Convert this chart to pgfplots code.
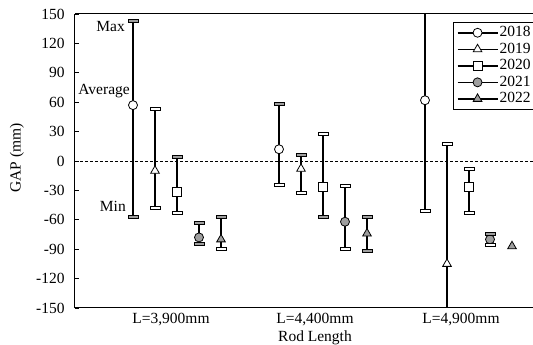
\documentclass[border=0pt]{standalone}
\usepackage{fontspec}
\setmainfont{Liberation Serif}
\usepackage{pgfplots}
\usepackage{pgfplotstable}
\pgfplotsset{compat=1.18}
\definecolor{mg}{RGB}{158,158,158}

% x: position (px from left axis), avg, max, min
\pgfplotstableread{
x avg max min
58 57 143 -57
204 12 58 -24
350 62 220 -51
}\tA
\pgfplotstableread{
x avg max min
80 -10 53 -48
226 -8 6 -32
372 -105 17 -220
}\tB
\pgfplotstableread{
x avg max min
102 -32 4 -53
248 -26 28 -57
394 -26 -8 -53
}\tC
\pgfplotstableread{
x avg max min
124 -78 -63 -85
270 -62 -25 -90
415 -80 -74 -86
}\tD
\pgfplotstableread{
x avg max min
146 -80 -57 -90
292 -74 -57 -92
437 -87 -87 -87
}\tE
\pgfplotstableread{
x y
58 143
58 -57
102 4
124 -63
124 -85
146 -57
204 58
226 6
248 -57
292 -57
292 -92
415 -74
}\capG
\pgfplotstableread{
x y
80 53
80 -48
102 -53
146 -90
204 -24
226 -32
248 28
270 -25
270 -90
350 -51
372 17
394 -8
394 -53
415 -86
}\capW

\begin{document}
\fontsize{15.5}{18}\selectfont
\begin{tikzpicture}
\begin{axis}[
  anchor=south west, at={(0,0)},
  scale only axis, width=458pt, height=294pt,
  xmin=0, xmax=458, ymin=-150, ymax=150,
  axis x line*=box, axis y line*=left,
  axis line style={line width=1pt, black},
  ytick={-150,-120,...,150},
  yticklabels={\textrm{-150},\textrm{-120},\textrm{-90},\textrm{-60},\textrm{-30},\textrm{0},\textrm{30},\textrm{60},\textrm{90},\textrm{120},\textrm{150}},
  yticklabel style={xshift=-5pt},
  xtick={96,240,386},
  xticklabels={{L=3,900mm},{L=4,400mm},{L=4,900mm}},
  xtick style={draw=none},
  ytick style={line width=0.8pt, black},
  tick align=inside, major tick length=4pt,
  ylabel={GAP (mm)},
  ylabel style={at={(axis description cs:-0.1266,0.51)}, anchor=center},
  xlabel={Rod Length},
  xlabel style={at={(axis description cs:0.524,0)}, anchor=center, yshift=-30pt},
  legend style={at={(axis description cs:1,0.973)}, anchor=north east, xshift=3pt,
    draw=black, line width=0.6pt, row sep=1.5pt, inner xsep=4pt, inner ysep=3pt,
    nodes={inner sep=1.2pt},
    font=\fontsize{15.5}{18}\selectfont\rmfamily},
  legend cell align=left,
  legend image code/.code={%
    \draw[black, line width=1.5pt] (0pt,0pt) -- (40pt,0pt);
    \draw[#1] plot coordinates {(20pt,0pt)};},
  error bars/y dir=both,
  error bars/y explicit,
  error bars/error mark=none,
  error bars/error bar style={line width=2.2pt, black},
]
\addplot[black, line width=0.8pt, dash pattern=on 3pt off 2pt, forget plot] coordinates {(0,0) (458,0)};

\addplot[only marks, mark=*, mark size=4.5pt, mark options={fill=white, draw=black, line width=0.8pt}]
  table[x=x, y=avg, y error plus expr=\thisrow{max}-\thisrow{avg}, y error minus expr=\thisrow{avg}-\thisrow{min}] {\tA};
\addplot[only marks, mark=triangle*, mark size=5pt, mark options={fill=white, draw=black, line width=0.8pt}]
  table[x=x, y=avg, y error plus expr=\thisrow{max}-\thisrow{avg}, y error minus expr=\thisrow{avg}-\thisrow{min}] {\tB};
\addplot[only marks, mark=square*, mark size=4.5pt, mark options={fill=white, draw=black, line width=0.8pt}]
  table[x=x, y=avg, y error plus expr=\thisrow{max}-\thisrow{avg}, y error minus expr=\thisrow{avg}-\thisrow{min}] {\tC};
\addplot[only marks, mark=*, mark size=4.5pt, mark options={fill=mg, draw=black, line width=0.8pt}]
  table[x=x, y=avg, y error plus expr=\thisrow{max}-\thisrow{avg}, y error minus expr=\thisrow{avg}-\thisrow{min}] {\tD};
\addplot[only marks, mark=triangle*, mark size=5pt, mark options={fill=mg, draw=black, line width=0.8pt}]
  table[x=x, y=avg, y error plus expr=\thisrow{max}-\thisrow{avg}, y error minus expr=\thisrow{avg}-\thisrow{min}] {\tE};

\addplot[only marks, mark=square*, mark size=5pt, mark options={yscale=0.3, fill=mg, draw=black, line width=0.7pt}, forget plot]
  table[x=x, y=y] {\capG};
\addplot[only marks, mark=square*, mark size=5pt, mark options={yscale=0.3, fill=white, draw=black, line width=0.7pt}, forget plot]
  table[x=x, y=y] {\capW};

\legend{\textrm{2018},\textrm{2019},\textrm{2020},\textrm{2021},\textrm{2022}}

\node[anchor=east, inner sep=0pt] at (axis cs:50,137) {Max};
\node[anchor=east, inner sep=0pt] at (axis cs:55,71) {Average};
\node[anchor=east, inner sep=0pt] at (axis cs:51,-46) {Min};
\end{axis}
\pgfresetboundingbox
\path[use as bounding box] (-75pt,-37pt) rectangle (458pt,308pt);
\end{tikzpicture}
\end{document}
